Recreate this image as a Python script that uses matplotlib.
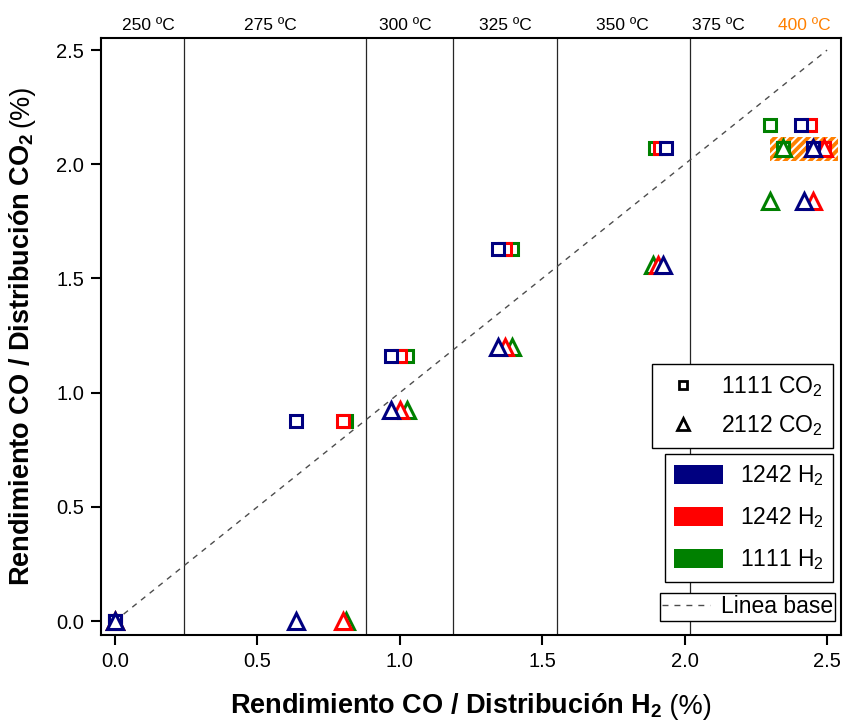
import numpy as np
import matplotlib
matplotlib.use("Agg")
from matplotlib import pyplot as plt
from matplotlib.lines import Line2D
from matplotlib.patches import Patch, Rectangle

plt.rcParams['font.family'] = ['Liberation Sans', 'DejaVu Sans']
plt.rcParams['mathtext.default'] = 'regular'
plt.rcParams['hatch.linewidth'] = 1.5

# temperature zones (boundaries on the x axis) and their labels
zone_edges = [0.242, 0.881, 1.187, 1.552, 2.019]
temp_labels = ["250 ºC", "275 ºC", "300 ºC", "325 ºC", "350 ºC", "375 ºC", "400 ºC"]
temp_pos = [0.117, 0.544, 1.018, 1.369, 1.78, 2.117, 2.42]

# series: 1111 CO2 (squares) and 2112 CO2 (triangles), per H2 series colour
navy_sq_x = [0.0, 0.635, 0.97, 1.345, 1.935, 2.41, 2.45]
navy_sq_y = [0.0, 0.875, 1.16, 1.63, 2.07, 2.17, 2.07]
navy_tr_x = [0.0, 0.635, 0.97, 1.345, 1.925, 2.42, 2.45]
navy_tr_y = [0.0, 0.0, 0.925, 1.20, 1.56, 1.84, 2.07]

red_sq_x = [0.0, 0.80, 1.00, 1.37, 1.915, 2.44, 2.49]
red_sq_y = [0.0, 0.875, 1.16, 1.63, 2.07, 2.17, 2.07]
red_tr_x = [0.0, 0.80, 1.00, 1.37, 1.905, 2.45, 2.49]
red_tr_y = [0.0, 0.0, 0.925, 1.20, 1.56, 1.84, 2.07]

green_sq_x = [0.0, 0.81, 1.025, 1.395, 1.895, 2.30, 2.345]
green_sq_y = [0.0, 0.875, 1.16, 1.63, 2.07, 2.17, 2.07]
green_tr_x = [0.0, 0.81, 1.025, 1.395, 1.89, 2.30, 2.345]
green_tr_y = [0.0, 0.0, 0.925, 1.20, 1.56, 1.84, 2.07]

# highlighted region at 400 ºC
box_x = [2.30, 2.54]
box_y = [2.015, 2.12]

navy, red, green, orange = '#000080', '#ff0000', '#008000', '#ff8000'

fig = plt.figure(figsize=(8.46, 7.22), dpi=100)
ax = fig.add_axes([0.1194, 0.1205, 0.8747, 0.8269])
ax.set_xlim(-0.049, 2.549)
ax.set_ylim(-0.061, 2.553)

for xe in zone_edges:
    ax.axvline(xe, color='0.15', lw=0.9, zorder=1)

ax.add_patch(Rectangle((box_x[0], box_y[0]), box_x[1] - box_x[0], box_y[1] - box_y[0],
                       facecolor=orange, edgecolor='white', hatch='////', lw=0, zorder=2))

base = np.array([0.0, 2.5])
ax.plot(base, base, ls=(0, (4, 4)), color='0.3', lw=1.0, zorder=2)

series = [(green, green_sq_x, green_sq_y, green_tr_x, green_tr_y),
          (red, red_sq_x, red_sq_y, red_tr_x, red_tr_y),
          (navy, navy_sq_x, navy_sq_y, navy_tr_x, navy_tr_y)]
for col, sx, sy, tx, ty in series:
    ax.plot(sx, sy, ls='none', marker='s', ms=8, mfc='white', mec=col, mew=2.2, zorder=3)
    ax.plot(tx, ty, ls='none', marker='^', ms=11.5, mfc='white', mec=col, mew=2.2, zorder=3)

for lab, xp in zip(temp_labels, temp_pos):
    ax.text(xp, 1.0135, lab, transform=ax.get_xaxis_transform(), ha='center', va='baseline',
            fontsize=12.5, color=orange if lab.startswith('400') else 'black')

ticks = [0.0, 0.5, 1.0, 1.5, 2.0, 2.5]
ax.set_xticks(ticks)
ax.set_yticks(ticks)
ax.set_xticklabels([f"{t:.1f}" for t in ticks])
ax.set_yticklabels([f"{t:.1f}" for t in ticks])
ax.tick_params(direction='out', length=7, width=1.5, labelsize=14.5, pad=5)
for sp in ax.spines.values():
    sp.set_linewidth(1.5)

xl = ax.set_xlabel("Rendimiento CO / Distribución H$_2$", fontsize=19.5, fontweight='bold')
yl = ax.set_ylabel("Rendimiento CO / Distribución CO$_2$", fontsize=19.5, fontweight='bold')
ax.xaxis.set_label_coords(0.466, -0.095)
ax.yaxis.set_label_coords(-0.088, 0.462)
ax.annotate(" (%)", xy=(1, 0), xycoords=xl, ha='left', va='bottom', fontsize=19.5)
ax.annotate("(%)", xy=(0.5, 1), xycoords=yl, ha='center', va='bottom', rotation=90,
            fontsize=19.5, xytext=(0, 4), textcoords='offset points')

legkw = dict(frameon=True, fancybox=False, framealpha=1, edgecolor='black', fontsize=16.5,
             borderaxespad=0)
h1 = [Line2D([], [], ls='none', marker='s', ms=6, mfc='white', mec='black', mew=2),
      Line2D([], [], ls='none', marker='^', ms=8, mfc='white', mec='black', mew=2)]
leg1 = ax.legend(h1, ["1111 CO$_2$", "2112 CO$_2$"], loc='upper right',
                 bbox_to_anchor=(0.989, 0.454), handlelength=1.8, handletextpad=0.75,
                 labelspacing=0.6, borderpad=0.45, **legkw)
leg1.get_frame().set_linewidth(1)
ax.add_artist(leg1)

h2 = [Patch(facecolor=navy), Patch(facecolor=red), Patch(facecolor=green)]
leg2 = ax.legend(h2, ["1242 H$_2$", "1242 H$_2$", "1111 H$_2$"], loc='upper right',
                 bbox_to_anchor=(0.989, 0.303), handlelength=2.1, handleheight=0.87,
                 handletextpad=0.75, labelspacing=0.75, borderpad=0.4, **legkw)
leg2.get_frame().set_linewidth(1)
ax.add_artist(leg2)

h3 = [Line2D([], [], ls=(0, (4.3, 4.3)), color='0.3', lw=1)]
leg3 = ax.legend(h3, ["Linea base"], loc='upper right', bbox_to_anchor=(0.992, 0.070),
                 handlelength=2.1, handletextpad=0.45, borderpad=0.1, **legkw)
leg3.get_frame().set_linewidth(1)

fig.savefig("out.png", dpi=100)
